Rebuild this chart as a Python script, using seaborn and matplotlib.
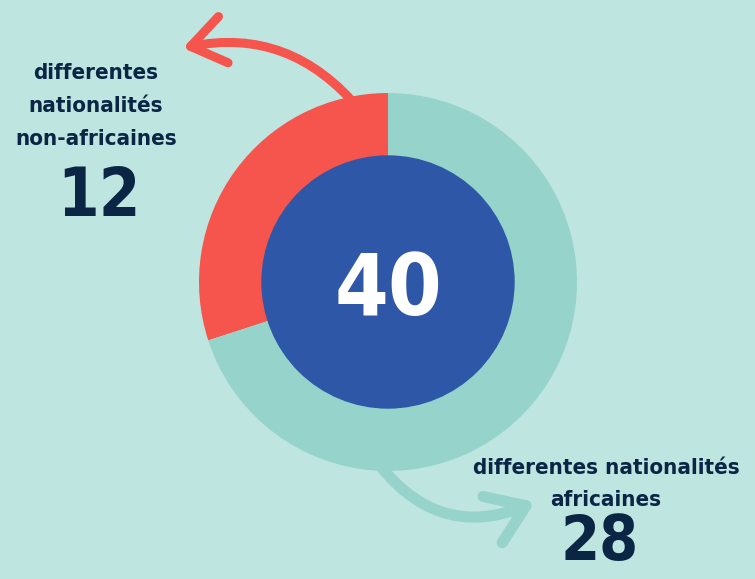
import matplotlib
matplotlib.use("Agg")
import matplotlib.pyplot as plt
import seaborn as sns
from matplotlib.patches import Circle

# donnees
categories = ["non-africaines", "africaines"]
valeurs = [12, 28]
total = sum(valeurs)

sns.set_theme(style="white")
fond = "#BEE5E0"
rouge = "#F5554C"
turquoise = "#96D4CB"
bleu = "#2F57A8"
texte = "#0B2545"
plt.rcParams['font.family'] = ['DejaVu Sans']

W, H = 755, 579
fig = plt.figure(figsize=(W / 100, H / 100), dpi=100, facecolor=fond)
ax = fig.add_axes([0, 0, 1, 1])
ax.set_facecolor(fond)
ax.set_xlim(0, W)
ax.set_ylim(0, H)
ax.set_aspect("equal")
ax.axis("off")

cx, cy = 388, H - 282

# fleches (derriere le donut)
ax.annotate("", xy=(183, H - 48), xytext=(360, H - 110),
            arrowprops=dict(arrowstyle="->,head_length=1.2,head_width=0.85",
                            connectionstyle="arc3,rad=0.3", lw=6.5, color=rouge,
                            mutation_scale=20, shrinkA=0, shrinkB=0,
                            capstyle="round", joinstyle="round"), zorder=1)
ax.annotate("", xy=(535, H - 502), xytext=(372, H - 455),
            arrowprops=dict(arrowstyle="->,head_length=1.3,head_width=0.9",
                            connectionstyle="arc3,rad=0.4", lw=8, color=turquoise,
                            mutation_scale=20, shrinkA=0, shrinkB=0,
                            capstyle="round", joinstyle="round"), zorder=1)

# donut
ax.pie(valeurs, colors=[rouge, turquoise], startangle=90, counterclock=True,
       center=(cx, cy), radius=189, frame=True,
       wedgeprops=dict(width=64, linewidth=0))
ax.set_xlim(0, W)
ax.set_ylim(0, H)
ax.axis("off")
ax.add_patch(Circle((cx, cy), 126, color=bleu, zorder=3))

ax.text(cx, H - 292, str(total), color="white", fontsize=62, ha="center", va="center",
        fontweight="bold", fontstretch="condensed", zorder=4)

ax.text(96, H - 106, "differentes\nnationalités\n" + categories[0], color=texte,
        fontsize=16, ha="center", va="center", linespacing=1.8, fontweight="bold",
        fontstretch="condensed")
ax.text(99, H - 197, str(valeurs[0]), color=texte, fontsize=48, ha="center",
        va="center", fontweight="bold", fontstretch="condensed")

ax.text(606, H - 484, "differentes nationalités\n" + categories[1], color=texte,
        fontsize=16, ha="center", va="center", linespacing=1.75, fontweight="bold",
        fontstretch="condensed")
ax.text(600, H - 543, str(valeurs[1]), color=texte, fontsize=45, ha="center",
        va="center", fontweight="bold", fontstretch="condensed")

fig.savefig("out.png", dpi=100, facecolor=fond)
